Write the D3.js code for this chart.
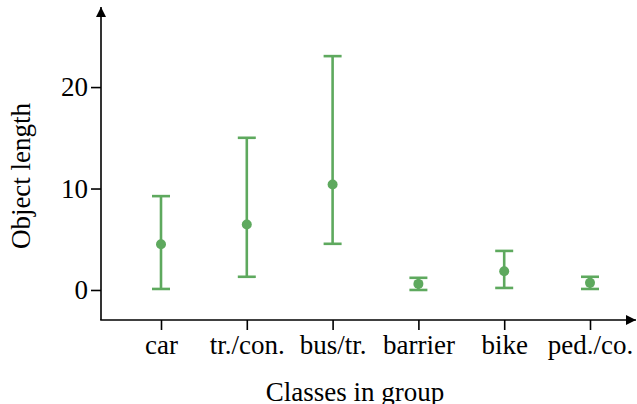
<!DOCTYPE html>
<html>
<head>
<meta charset="utf-8">
<script src="https://cdn.jsdelivr.net/npm/d3@7"></script>
<style>
  body { margin: 0; background: #fff; }
  svg { display: block; }
  text { font-family: "Liberation Serif", "DejaVu Serif", serif; }
</style>
</head>
<body>
<div id="chart"></div>
<script>
// data
var classes = ['car', 'tr./con.', 'bus/tr.', 'barrier', 'bike', 'ped./co.'];
var means   = [4.5, 6.45, 10.4, 0.6, 1.85, 0.7];
var lows    = [0.1, 1.3, 4.55, 0.0, 0.2, 0.1];
var highs   = [9.25, 15.0, 23.05, 1.2, 3.85, 1.3];
var yTicks  = [0, 10, 20];

var width = 637, height = 404;
var green = '#5ea95e';
var fontSize = 27;

var svg = d3.select('#chart').append('svg')
    .attr('width', width).attr('height', height);

var x = d3.scalePoint().domain(classes).range([161, 590]);
var y = d3.scaleLinear().domain([-2.96, 27.4]).range([320, 12]);

var defs = svg.append('defs');
defs.append('marker').attr('id', 'arrow')
    .attr('viewBox', '0 0 10 10').attr('refX', 10).attr('refY', 5)
    .attr('markerWidth', 12).attr('markerHeight', 10)
    .attr('markerUnits', 'userSpaceOnUse')
    .attr('orient', 'auto')
  .append('path').attr('d', 'M0,0 L10,5 L0,10 Z').attr('fill', '#000');

// y axis
var yAxis = svg.append('g').attr('transform', 'translate(101,0)')
    .call(d3.axisLeft(y).tickValues(yTicks).tickSize(10).tickPadding(3));
yAxis.select('.domain').remove();
yAxis.selectAll('.tick line').attr('stroke', '#000').attr('stroke-width', 1.6);
yAxis.selectAll('.tick text').attr('font-size', fontSize).attr('fill', '#000')
    .attr('font-family', '"Liberation Serif", serif');

// x axis
var xAxis = svg.append('g').attr('transform', 'translate(0,320)')
    .call(d3.axisBottom(x).tickSize(10).tickPadding(5));
xAxis.select('.domain').remove();
xAxis.selectAll('.tick line').attr('stroke', '#000').attr('stroke-width', 1.6);
xAxis.selectAll('.tick text').attr('font-size', fontSize).attr('fill', '#000')
    .attr('font-family', '"Liberation Serif", serif');

// axis lines with arrows
svg.append('line').attr('x1', 101).attr('y1', 320).attr('x2', 101).attr('y2', 7)
    .attr('stroke', '#000').attr('stroke-width', 1.6).attr('marker-end', 'url(#arrow)');
svg.append('line').attr('x1', 100.2).attr('y1', 320).attr('x2', 636).attr('y2', 320)
    .attr('stroke', '#000').attr('stroke-width', 1.6).attr('marker-end', 'url(#arrow)');

// error bars
var bars = svg.append('g').selectAll('g').data(classes).enter().append('g');
bars.append('line')
    .attr('x1', function(d) { return x(d); }).attr('x2', function(d) { return x(d); })
    .attr('y1', function(d, i) { return y(lows[i]); })
    .attr('y2', function(d, i) { return y(highs[i]); })
    .attr('stroke', green).attr('stroke-width', 2.6);
[lows, highs].forEach(function(arr) {
    bars.append('line')
        .attr('x1', function(d) { return x(d) - 9; }).attr('x2', function(d) { return x(d) + 9; })
        .attr('y1', function(d, i) { return y(arr[i]); })
        .attr('y2', function(d, i) { return y(arr[i]); })
        .attr('stroke', green).attr('stroke-width', 2.6);
});
bars.append('circle')
    .attr('cx', function(d) { return x(d); })
    .attr('cy', function(d, i) { return y(means[i]); })
    .attr('r', 5).attr('fill', green);

// axis titles
svg.append('text').attr('x', 355).attr('y', 401)
    .attr('text-anchor', 'middle').attr('font-size', fontSize).text('Classes in group');
svg.append('text').attr('transform', 'translate(30,176) rotate(-90)')
    .attr('text-anchor', 'middle').attr('font-size', fontSize).text('Object length');
</script>
</body>
</html>
